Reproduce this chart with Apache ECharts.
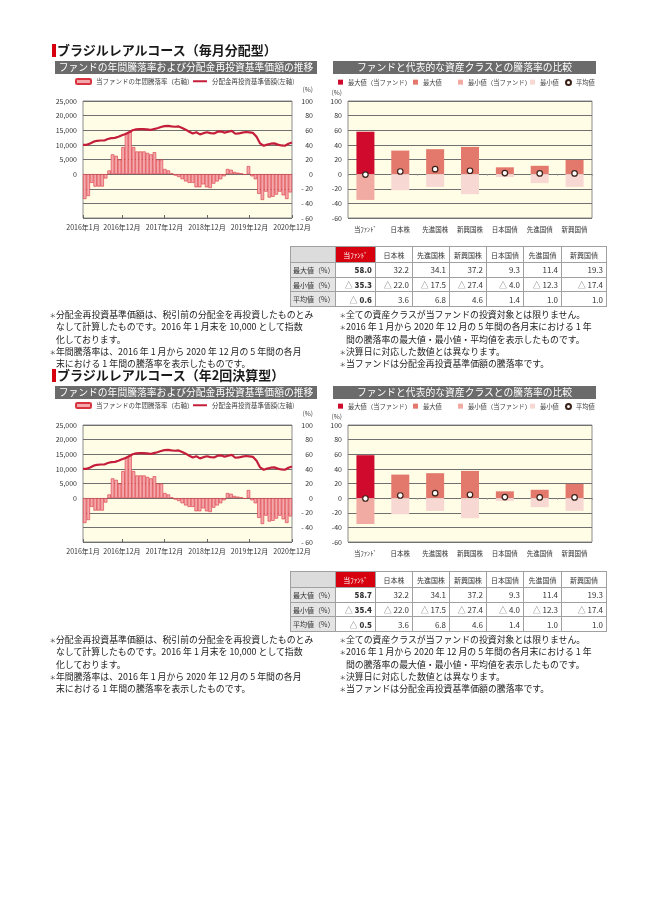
<!DOCTYPE html>
<html><head><meta charset="utf-8">
<script src="https://cdn.jsdelivr.net/npm/echarts@6/dist/echarts.min.js"></script>
<style>
html,body{margin:0;padding:0;background:#fff;}
body{font-family:'Noto Sans CJK JP','Noto Sans',sans-serif;color:#222;}
#page{position:relative;width:650px;height:919px;overflow:hidden;}
#chart{position:absolute;left:0;top:0;width:650px;height:919px;}
.abs{position:absolute;white-space:nowrap;}
.ttl{font-size:13px;font-weight:bold;color:#1a1a1a;line-height:16px;}
.rbar{background:#D7000F;width:3.5px;height:13px;}
.hdr{background:#6b6b6b;color:#fff;font-size:9.8px;line-height:13px;height:13px;text-align:center;}
table.tb{position:absolute;border-collapse:collapse;table-layout:fixed;color:#333;}
table.tb td{border:1px solid #a0a0a0;padding:0 3px;white-space:nowrap;overflow:hidden;box-sizing:border-box;}
table.tb tr.h td{height:16px;font-size:7px;text-align:center;background:#fff;padding:0;}
table.tb tr.d td{height:14.7px;font-size:8px;text-align:right;background:#fff;}
table.tb td.corner{background:#dcdcdc !important;}
table.tb td.fund{background:#D7000F !important;color:#fff;}
table.tb tr.d td.lab{background:#e4e4e4;text-align:left;font-size:7px;padding-left:2px;}
table.tb td.fv{font-weight:bold;}
.tri{color:#777;font-weight:normal;}
.notes{position:absolute;font-size:8.9px;line-height:12.3px;color:#222;white-space:nowrap;}
.note{position:relative;}
.ast{position:absolute;left:-6.5px;top:0;font-size:6.5px;color:#444;}
</style></head>
<body>
<div id="page">
<div id="chart"></div>
<div id="overlay"></div>
</div>
<script>
const FONT = "'Noto Sans CJK JP','Noto Sans',sans-serif";

// ---- categories ----
const months = [];
for (let y = 2016; y <= 2020; y++) { for (let m = 1; m <= 12; m++) { months.push(y + '年' + m + '月'); } }
const monthLabelIndex = [0, 11, 23, 35, 47, 59];
const classNames = ['当ﾌｧﾝﾄﾞ', '日本株', '先進国株', '新興国株', '日本国債', '先進国債', '新興国債'];

// ---- 分配金再投資基準価額 (monthly, left axis) ----
const navMonthly = [10000,10000,10500,11100,11400,11500,11500,12000,12300,12400,12800,13300,
  13700,14300,15000,15300,15400,15400,15300,15100,15400,15700,16100,16400,
  16500,16300,16200,16300,15800,15200,14500,13900,14300,13600,14000,14300,
  14000,13900,14500,14600,14200,14500,14800,13800,13900,14200,14400,14300,
  14100,12800,10500,9700,10100,10400,10500,10100,9800,9700,10400,10800];
const navSemi = [10000,10000,10500,11100,11400,11500,11500,12000,12300,12400,12800,13300,
  13700,14300,15000,15300,15400,15400,15300,15100,15400,15700,16100,16400,
  16500,16300,16200,16300,15800,15200,14500,13900,14300,13600,14000,14300,
  14000,13900,14500,14600,14200,14500,14800,13800,13900,14200,14400,14300,
  14100,12800,10500,9700,10100,10400,10500,10100,9800,9700,10400,10800];

// ---- 年間騰落率 (%) (right axis) ----
const returnMonthly = [-34,-30,-12,-17,-17,-17,-6,5,27,25,20,37,
  56,58.0,37,31,31,31,29,27,30,20,20,7,
  5,1,-2,-4,-7,-10,-12,-12,-18,-18,-14,-18,
  -19,-13,-10,-7,-3,7,6,3,2,1,-1,11,
  -3,-7,-27,-35.3,-24,-32,-31,-28,-24,-29,-34,-25];
const returnSemi = [-34,-30,-12,-17,-17,-17,-6,5,27,25,20,37,
  56,58.7,37,31,31,31,29,27,30,20,20,7,
  5,1,-2,-4,-7,-10,-12,-12,-18,-18,-14,-18,
  -19,-13,-10,-7,-3,7,6,3,2,1,-1,11,
  -3,-7,-27,-35.4,-24,-32,-31,-28,-24,-29,-34,-25];

// ---- comparison (%) ----
const maxMonthly = [58.0, 32.2, 34.1, 37.2, 9.3, 11.4, 19.3];
const minMonthly = [-35.3, -22.0, -17.5, -27.4, -4.0, -12.3, -17.4];
const avgMonthly = [-0.6, 3.6, 6.8, 4.6, 1.4, 1.0, 1.0];
const maxSemi = [58.7, 32.2, 34.1, 37.2, 9.3, 11.4, 19.3];
const minSemi = [-35.4, -22.0, -17.5, -27.4, -4.0, -12.3, -17.4];
const avgSemi = [-0.5, 3.6, 6.8, 4.6, 1.4, 1.0, 1.0];

const rowLabels = ['最大値（%）', '最小値（%）', '平均値（%）'];
const titles = ['ブラジルレアルコース（毎月分配型）', 'ブラジルレアルコース（年2回決算型）'];
const headerLeft = 'ファンドの年間騰落率および分配金再投資基準価額の推移';
const headerRight = 'ファンドと代表的な資産クラスとの騰落率の比較';
const notesLeft = [
  '分配金再投資基準価額は、税引前の分配金を再投資したものとみ<br>なして計算したものです。2016 年 1 月末を 10,000 として指数<br>化しております。',
  '年間騰落率は、2016 年 1 月から 2020 年 12 月の 5 年間の各月<br>末における 1 年間の騰落率を表示したものです。'
];
const notesRight = [
  '全ての資産クラスが当ファンドの投資対象とは限りません。',
  '2016 年 1 月から 2020 年 12 月の 5 年間の各月末における 1 年<br>間の騰落率の最大値・最小値・平均値を表示したものです。',
  '決算日に対応した数値とは異なります。',
  '当ファンドは分配金再投資基準価額の騰落率です。'
];

const BG = '#FFFDE6';
const LINE = '#C41E3A';
const C_FMAX = '#CF0A2C', C_MAX = '#E3786C', C_FMIN = '#F2ABA3', C_MIN = '#F8D8D3';
const N_RET = '当ファンドの年間騰落率（右軸）';
const N_NAV = '分配金再投資基準価額(左軸)';
const N_FMAX = '最大値（当ファンド）', N_MAX = '最大値', N_FMIN = '最小値（当ファンド）', N_MIN = '最小値', N_AVG = '平均値';

const grids = [], xAxes = [], yAxes = [], series = [], legends = [], graphics = [];
const axisText = { fontSize: 7, color: '#333', fontFamily: FONT };
const legText = { fontSize: 6.5, color: '#444', fontFamily: FONT };

function buildSection(oy, nav, rets, maxV, minV, avgV) {
  const g = grids.length;
  const gridBase = { show: true, backgroundColor: BG, borderColor: '#8c8c8c', borderWidth: 1 };
  grids.push(Object.assign({ left: 83, top: 101 + oy, width: 209, height: 117 }, gridBase));
  grids.push(Object.assign({ left: 348, top: 101 + oy, width: 244, height: 117 }, gridBase));
  const x = xAxes.length;
  const pick = (i) => monthLabelIndex.indexOf(i) >= 0;
  xAxes.push({ type: 'category', gridIndex: g, position: 'bottom', data: months, boundaryGap: true, show: false });
  xAxes.push({ type: 'category', gridIndex: g, position: 'bottom', data: months, boundaryGap: false,
    axisLine: { show: false, onZero: false },
    axisTick: { show: true, inside: true, length: 3, interval: pick, lineStyle: { color: '#666' } },
    axisLabel: Object.assign({ interval: pick, margin: 6 }, axisText) });
  xAxes.push({ type: 'category', gridIndex: g + 1, position: 'bottom', data: classNames,
    axisLine: { show: false, onZero: false }, axisTick: { show: false },
    axisLabel: Object.assign({ interval: 0, margin: 8 }, axisText, { fontSize: 6.5 }) });
  xAxes.push({ type: 'category', gridIndex: g + 1, position: 'bottom', data: classNames,
    axisLine: { show: false, onZero: true }, axisTick: { show: true, length: 1.5, lineStyle: { color: '#999' } },
    axisLabel: { show: false } });
  const y = yAxes.length;
  const split = { show: true, lineStyle: { color: '#707070', width: 1 } };
  yAxes.push({ type: 'value', gridIndex: g, position: 'left', min: -15000, max: 25000, interval: 5000,
    axisLine: { show: false, onZero: false }, axisTick: { show: false }, splitLine: split,
    axisLabel: Object.assign({ margin: 6, formatter: (v) => v < 0 ? '' : v.toLocaleString('en-US') }, axisText) });
  yAxes.push({ type: 'value', gridIndex: g, position: 'right', min: -60, max: 100, interval: 20,
    axisLine: { show: false, onZero: false }, axisTick: { show: false }, splitLine: { show: false },
    axisLabel: Object.assign({ margin: 21, align: 'right', formatter: (v) => v < 0 ? '- ' + (-v) : String(v) }, axisText) });
  yAxes.push({ type: 'value', gridIndex: g + 1, position: 'left', min: -60, max: 100, interval: 20,
    axisLine: { show: false, onZero: false }, axisTick: { show: false }, splitLine: split,
    axisLabel: Object.assign({ margin: 6 }, axisText) });

  series.push({ type: 'bar', name: N_RET, xAxisIndex: x, yAxisIndex: y + 1, data: rets, barCategoryGap: '0%',
    itemStyle: { color: '#F5A8AB', borderColor: '#D8343F', borderWidth: 0.6 }, silent: true });
  series.push({ type: 'line', name: N_NAV, xAxisIndex: x + 1, yAxisIndex: y, data: nav, symbol: 'none',
    lineStyle: { color: LINE, width: 2.2 }, itemStyle: { color: LINE }, z: 5, silent: true });
  const only0 = (arr) => arr.map((v, i) => i === 0 ? v : '-');
  const rest = (arr) => arr.map((v, i) => i === 0 ? '-' : v);
  const cb = (name, data, color) => ({ type: 'bar', name: name, xAxisIndex: x + 2, yAxisIndex: y + 2, data: data,
    barWidth: 18, barGap: '-100%', itemStyle: { color: color }, silent: true });
  series.push(cb(N_FMAX, only0(maxV), C_FMAX));
  series.push(cb(N_MAX, rest(maxV), C_MAX));
  series.push(cb(N_FMIN, only0(minV), C_FMIN));
  series.push(cb(N_MIN, rest(minV), C_MIN));
  series.push({ type: 'scatter', name: N_AVG, xAxisIndex: x + 2, yAxisIndex: y + 2, data: avgV, symbol: 'circle', symbolSize: 5.5,
    itemStyle: { color: '#ffffff', borderColor: '#3a2219', borderWidth: 1.2, opacity: 1 }, z: 10, silent: true });

  const lt = 78 + oy;
  legends.push({ left: 75, top: lt, padding: 0, itemWidth: 15, itemHeight: 5, icon: 'roundRect', data: [N_RET], textStyle: legText, selectedMode: false });
  legends.push({ left: 193, top: lt, padding: 0, itemWidth: 14, itemHeight: 2, icon: 'rect', data: [N_NAV], textStyle: legText, selectedMode: false });
  const rl = [[338, N_FMAX], [413, N_MAX], [458, N_FMIN], [530, N_MIN], [565, N_AVG]];
  rl.forEach(([l, n]) => legends.push({ left: l, top: lt + 1, padding: 0, itemWidth: 5, itemHeight: 5,
    icon: n === N_AVG ? 'circle' : 'rect', data: [n], textStyle: Object.assign({}, legText, { fontSize: 6.3 }), selectedMode: false }));

  graphics.push({ type: 'text', x: 313, y: 90 + oy, style: { text: '(%)', align: 'right', verticalAlign: 'middle', fontSize: 6.5, fill: '#444', fontFamily: FONT } });
  graphics.push({ type: 'text', x: 342, y: 93 + oy, style: { text: '(%)', align: 'right', verticalAlign: 'middle', fontSize: 6.5, fill: '#444', fontFamily: FONT } });
}

buildSection(0, navMonthly, returnMonthly, maxMonthly, minMonthly, avgMonthly);
buildSection(324, navSemi, returnSemi, maxSemi, minSemi, avgSemi);

const chart = echarts.init(document.getElementById('chart'));
chart.setOption({
  animation: false,
  textStyle: { fontFamily: FONT },
  grid: grids, xAxis: xAxes, yAxis: yAxes, legend: legends, graphic: graphics, series: series
});

// ---- HTML parts: titles, headers, tables, notes ----
function fmtVal(v, bold) {
  const s = Math.abs(v).toFixed(1);
  const t = bold ? '<b>' + s + '</b>' : s;
  return v < 0 ? '<span class="tri">△</span> ' + t : t;
}
function sectionHtml(oy, title, maxV, minV, avgV) {
  let h = '';
  h += '<div class="abs rbar" style="left:52px;top:' + (44 + oy) + 'px"></div>';
  h += '<div class="abs ttl" style="left:57px;top:' + (42 + oy) + 'px">' + title + '</div>';
  h += '<div class="abs hdr" style="left:55px;top:' + (61 + oy) + 'px;width:262px">' + headerLeft + '</div>';
  h += '<div class="abs hdr" style="left:333px;top:' + (61 + oy) + 'px;width:263px">' + headerRight + '</div>';
  const widths = [45, 40, 37, 37, 37, 37, 38, 45];
  let t = '<table class="tb" style="left:290px;top:' + (246 + oy) + 'px;width:' + widths.reduce((a, b) => a + b, 0) + 'px"><colgroup>';
  widths.forEach(w => { t += '<col style="width:' + w + 'px">'; });
  t += '</colgroup><tr class="h"><td class="corner"></td>';
  classNames.forEach((c, i) => { t += '<td' + (i === 0 ? ' class="fund"' : '') + '>' + c + '</td>'; });
  t += '</tr>';
  [maxV, minV, avgV].forEach((arr, r) => {
    t += '<tr class="d"><td class="lab">' + rowLabels[r] + '</td>';
    arr.forEach((v, i) => { t += '<td' + (i === 0 ? ' class="fv"' : '') + '>' + fmtVal(v, i === 0) + '</td>'; });
    t += '</tr>';
  });
  t += '</table>';
  h += t;
  const nb = (arr) => arr.map(n => '<div class="note"><span class="ast">＊</span>' + n + '</div>').join('');
  h += '<div class="notes" style="left:56px;top:' + (309 + oy) + 'px">' + nb(notesLeft) + '</div>';
  h += '<div class="notes" style="left:346px;top:' + (309 + oy) + 'px">' + nb(notesRight) + '</div>';
  return h;
}
document.getElementById('overlay').innerHTML =
  sectionHtml(0, titles[0], maxMonthly, minMonthly, avgMonthly) +
  sectionHtml(325, titles[1], maxSemi, minSemi, avgSemi);
</script>
</body></html>
